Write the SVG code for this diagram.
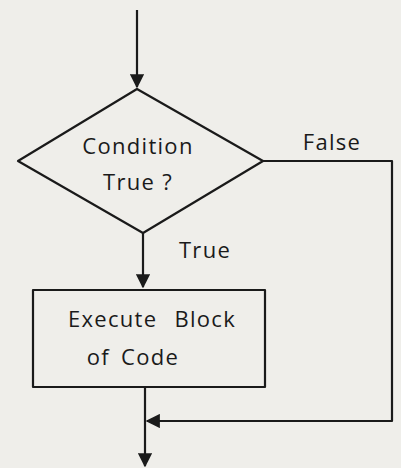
<svg xmlns="http://www.w3.org/2000/svg" width="401" height="468" viewBox="0 0 401 468">
<style>
.s{fill:none;stroke:#1a1a1a;stroke-width:2.2;stroke-linejoin:round}
.t{font-family:"Open Sans","DejaVu Sans",sans-serif;font-size:22px;letter-spacing:1.3px;word-spacing:10px;fill:#1a1a1a;text-anchor:middle}
</style>
<defs>
<marker id="a" viewBox="0 0 10 10" refX="9" refY="5" markerWidth="6.5" markerHeight="6.5" orient="auto-start-reverse" markerUnits="strokeWidth">
<path d="M0,0 L10,5 L0,10 Z" fill="#1a1a1a"/>
</marker>
</defs>
<rect width="401" height="468" fill="#efeeea"/>
<g id="connectors">
<path class="s" d="M137,10 V87" marker-end="url(#a)"/>
<path class="s" d="M143,233 V287" marker-end="url(#a)"/>
<path class="s" d="M263,161 H392 V421 H147" marker-end="url(#a)"/>
<path class="s" d="M145,387 V466" marker-end="url(#a)"/>
<text class="t" x="332" y="150">False</text>
<text class="t" x="205" y="258">True</text>
</g>
<g id="decision">
<path class="s" d="M137,89 L263,161 L143,233 L18,161 Z"/>
<text class="t" x="138" y="154">Condition</text>
<text class="t" x="138" y="190" style="word-spacing:0">True ?</text>
</g>
<g id="process">
<rect class="s" x="33" y="290" width="232" height="97"/>
<text class="t" x="152" y="327">Execute Block</text>
<text class="t" x="133" y="365" style="word-spacing:4px">of Code</text>
</g>
</svg>
